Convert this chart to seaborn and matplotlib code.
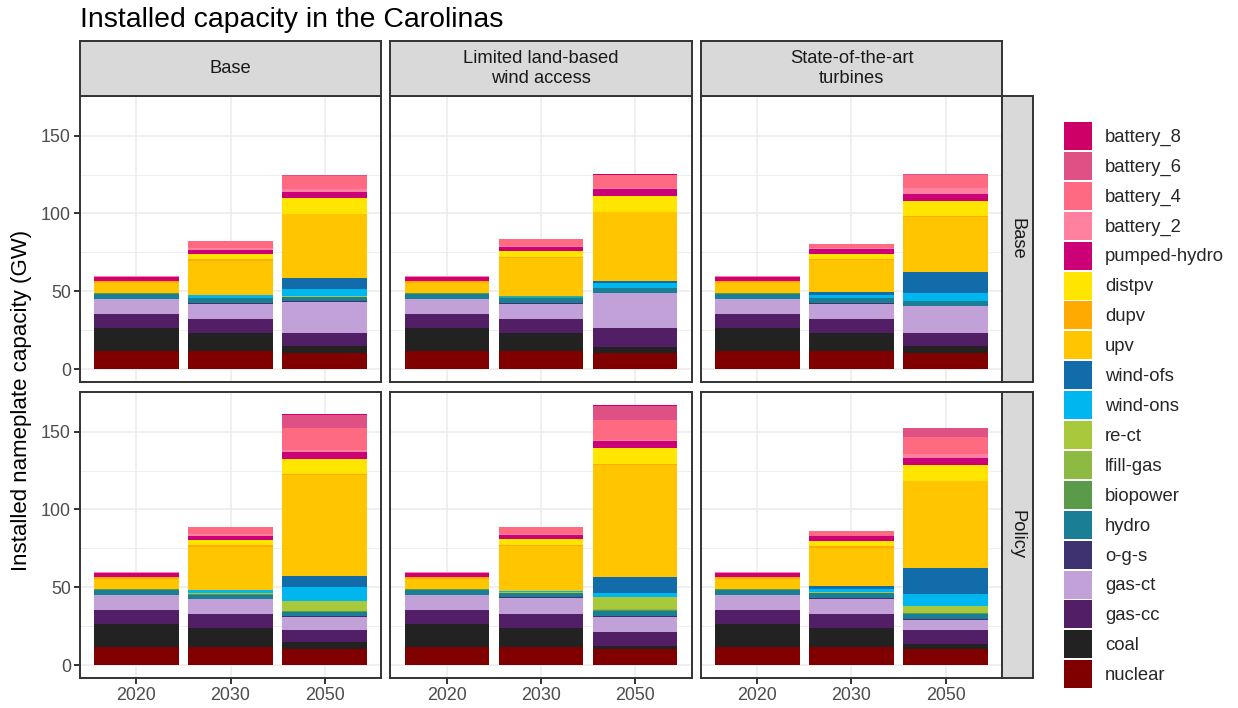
import numpy as np
import pandas as pd
import matplotlib
matplotlib.use("Agg")
import matplotlib.pyplot as plt
from matplotlib.patches import Patch
from matplotlib.ticker import FixedLocator
import seaborn as sns

# ---------------- data ----------------
TECHS = ["nuclear", "coal", "gas-cc", "gas-ct", "o-g-s", "hydro", "biopower",
         "lfill-gas", "re-ct", "wind-ons", "wind-ofs", "upv", "dupv", "distpv",
         "pumped-hydro", "battery_2", "battery_4", "battery_6", "battery_8"]
TECH_COLORS = ["#800000", "#222222", "#521F67", "#C2A0D8", "#3F3271", "#1A7F94",
               "#5A9A48", "#8CBA43", "#A8C93B", "#00B6EF", "#136CAA", "#FFC600",
               "#FFAA00", "#FFE500", "#CC0077", "#FF809F", "#FF6A83", "#DF5084",
               "#CC0066"]
YEARS = ["2020", "2030", "2050"]
COL_LABELS = ["Base", "Limited land-based\nwind access", "State-of-the-art\nturbines"]
ROW_LABELS = ["Base", "Policy"]

# capacities (GW), order of TECHS (bottom -> top)
cap_2020 = [11.5, 15.0, 9.0, 9.2, 0.6, 3.2, 0.2, 0.2, 0.0, 0.2, 0.0, 6.0, 1.2, 0.3, 2.6, 0.4, 0.4, 0.0, 0.0]

base_base_2030 = [11.5, 11.5, 9.0, 9.7, 0.6, 3.2, 0.2, 0.2, 0.0, 1.9, 0.0, 21.8, 1.3, 3.2, 2.6, 1.3, 4.5, 0.0, 0.0]
base_base_2050 = [10.5, 4.0, 8.4, 20.0, 0.6, 2.6, 0.2, 0.2, 0.3, 4.7, 7.0, 40.8, 0.6, 10.0, 3.9, 1.9, 8.3, 0.6, 0.0]
base_limited_2030 = [11.5, 11.5, 9.0, 10.0, 0.6, 3.2, 0.2, 0.2, 0.0, 0.6, 0.0, 24.4, 0.6, 3.8, 2.6, 0.6, 4.5, 0.0, 0.0]
base_limited_2050 = [10.5, 3.5, 12.3, 22.4, 0.3, 2.9, 0.2, 0.2, 0.0, 3.2, 1.3, 44.0, 0.3, 10.2, 4.5, 0.6, 8.3, 0.0, 0.6]
base_sota_2030 = [11.5, 11.5, 9.0, 9.6, 0.6, 3.2, 0.2, 0.2, 0.0, 1.9, 1.9, 20.5, 0.6, 3.2, 3.2, 0.6, 2.6, 0.0, 0.0]
base_sota_2050 = [10.5, 4.0, 8.4, 17.5, 0.4, 2.8, 0.2, 0.2, 0.0, 5.1, 13.5, 35.0, 0.6, 9.6, 4.5, 3.9, 8.3, 0.6, 0.0]

policy_base_2030 = [11.5, 12.0, 9.0, 9.6, 0.6, 2.6, 0.2, 0.3, 0.2, 1.9, 0.0, 27.8, 1.3, 3.2, 2.6, 1.3, 4.5, 0.0, 0.0]
policy_base_2050 = [10.5, 4.0, 8.3, 8.1, 0.6, 2.6, 0.3, 0.3, 6.4, 9.0, 7.0, 64.7, 0.9, 10.0, 3.9, 1.9, 14.0, 8.3, 0.6]
policy_limited_2030 = [11.5, 12.2, 9.0, 10.2, 0.6, 2.6, 0.2, 0.2, 0.2, 0.6, 0.0, 29.5, 0.6, 3.6, 2.6, 0.6, 4.5, 0.0, 0.0]
policy_limited_2050 = [10.5, 2.0, 8.4, 10.2, 0.4, 3.0, 0.9, 0.6, 7.7, 2.6, 10.3, 72.2, 0.4, 10.2, 4.5, 0.6, 13.0, 9.0, 0.6]
policy_sota_2030 = [11.5, 12.2, 9.0, 9.6, 0.6, 3.2, 0.2, 0.2, 0.2, 1.9, 1.9, 25.0, 1.3, 3.2, 2.6, 0.6, 2.6, 0.0, 0.0]
policy_sota_2050 = [10.5, 3.2, 9.0, 6.4, 0.6, 3.2, 0.3, 0.3, 4.5, 7.7, 16.6, 55.8, 0.3, 10.2, 4.5, 2.6, 10.9, 5.8, 0.0]

panels = {
    (0, 0): [cap_2020, base_base_2030, base_base_2050],
    (0, 1): [cap_2020, base_limited_2030, base_limited_2050],
    (0, 2): [cap_2020, base_sota_2030, base_sota_2050],
    (1, 0): [cap_2020, policy_base_2030, policy_base_2050],
    (1, 1): [cap_2020, policy_limited_2030, policy_limited_2050],
    (1, 2): [cap_2020, policy_sota_2030, policy_sota_2050],
}

records = []
for (r, c), series in panels.items():
    for yi, vals in enumerate(series):
        cum = 0.0
        for ti, v in enumerate(vals):
            records.append(dict(row=r, col=c, year=YEARS[yi], tech=TECHS[ti],
                                value=v, bottom=cum))
            cum += v
df = pd.DataFrame(records)
totals = df.groupby(["row", "col", "year"])["value"].sum()
ymax = totals.max()
ylim = (-0.05 * ymax, 1.05 * ymax)

# ---------------- style ----------------
sns.set_theme(style="white")
plt.rcParams["font.family"] = ["Liberation Sans", "DejaVu Sans"]

W, H = 1238, 708
fig = plt.figure(figsize=(W / 100, H / 100), dpi=100)
fig.patch.set_facecolor("white")


def frac(l, t, w, h):
    return [l / W, 1 - (t + h) / H, w / W, h / H]


col_left = [80, 390.5, 701]
row_top = [96, 392]
PW, PH = 301, 286
BORDER = "#333333"
LW = 1.4

for (r, c) in panels:
    ax = fig.add_axes(frac(col_left[c], row_top[r], PW, PH))
    sub_panel = df[(df.row == r) & (df.col == c)]
    for ti, tech in enumerate(TECHS):
        sub = sub_panel[sub_panel.tech == tech].copy()
        sub["yo"] = sub["year"].map({y: i for i, y in enumerate(YEARS)})
        sub = sub.sort_values("yo")
        sns.barplot(data=sub, x="year", y="value", order=YEARS,
                    color=TECH_COLORS[ti], saturation=1, width=0.9,
                    errorbar=None, linewidth=0, bottom=sub["bottom"].values,
                    ax=ax)
    ax.set_xlim(-0.6, 2.6)
    ax.set_ylim(*ylim)
    ax.set_xlabel("")
    ax.set_ylabel("")
    ax.yaxis.set_major_locator(FixedLocator([0, 50, 100, 150]))
    ax.yaxis.set_minor_locator(FixedLocator([25, 75, 125]))
    ax.set_axisbelow(True)
    ax.grid(True, which="major", axis="both", color="#EBEBEB", lw=1.1)
    ax.grid(True, which="minor", axis="y", color="#EBEBEB", lw=0.6)
    for s in ax.spines.values():
        s.set_color(BORDER)
        s.set_linewidth(LW)
        s.set_visible(True)
    ax.tick_params(axis="both", which="major", length=4.3, width=LW,
                   color=BORDER, labelsize=12.9, labelcolor="#4D4D4D", pad=2.2,
                   bottom=True, left=True)
    ax.tick_params(axis="y", which="minor", length=0)
    if c != 0:
        ax.tick_params(axis="y", left=False, labelleft=False)
    if r != 1:
        ax.tick_params(axis="x", bottom=False, labelbottom=False)

# strips
for c, lab in enumerate(COL_LABELS):
    sax = fig.add_axes(frac(col_left[c], 41, PW, 55))
    sax.set_facecolor("#D9D9D9")
    sax.set_xticks([])
    sax.set_yticks([])
    for s in sax.spines.values():
        s.set_color(BORDER)
        s.set_linewidth(LW)
    sax.text(0.5, 0.5, lab, ha="center", va="center", fontsize=13.2,
             color="#1A1A1A", linespacing=1.2, transform=sax.transAxes)

for r, lab in enumerate(ROW_LABELS):
    sax = fig.add_axes(frac(1002, row_top[r], 31, PH))
    sax.set_facecolor("#D9D9D9")
    sax.set_xticks([])
    sax.set_yticks([])
    for s in sax.spines.values():
        s.set_color(BORDER)
        s.set_linewidth(LW)
    sax.text(0.5, 0.5, lab, ha="center", va="center", fontsize=13.2,
             color="#1A1A1A", rotation=-90, transform=sax.transAxes)

# titles
fig.text(80 / W, 1 - 27 / H, "Installed capacity in the Carolinas",
         fontsize=20.4, ha="left", va="baseline", color="black")
fig.text(22 / W, 1 - 400 / H, "Installed nameplate capacity (GW)",
         fontsize=16, rotation=90, ha="center", va="center", color="black")

# legend
handles = [Patch(facecolor=col, edgecolor="none", label=t)
           for t, col in zip(TECHS[::-1], TECH_COLORS[::-1])]
fig.legend(handles=handles, loc="upper left",
           bbox_to_anchor=(1064 / W, 1 - 122 / H), frameon=False,
           fontsize=13.3, handlelength=1.516, handleheight=1.955,
           handletextpad=0.704, labelspacing=0.103, borderpad=0,
           borderaxespad=0)

fig.savefig("out.png", dpi=100, facecolor="white")
